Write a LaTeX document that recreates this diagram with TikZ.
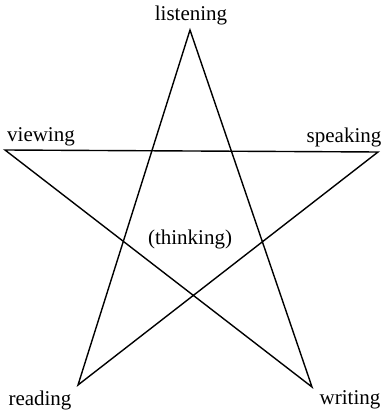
\documentclass[tikz,border=0pt]{standalone}
\usepackage{fontspec}
\setmainfont{Liberation Serif}
\begin{document}
\begin{tikzpicture}[x=1pt, y=-1pt,
        skill/.style={font=\fontsize{21}{23}\selectfont, inner sep=0pt},
        edge/.style={line width=1.4pt, line join=miter}
      ]
      \useasboundingbox (0,0) rectangle (382,411);

      % Star corners
      \coordinate (top) at (190, 30);
      \coordinate (left) at (5, 150);
      \coordinate (right) at (378, 152);
      \coordinate (botleft) at (78, 385);
      \coordinate (botright) at (312, 387);

      % Star lines
      \draw[edge] (botleft) -- (top) -- (botright) -- (left) -- (right) -- cycle;

      % Labels
      \node[skill] (listening) at (191, 15) {listening};
      \node[skill] (viewing) at (41, 137) {viewing};
      \node[skill] (speaking) at (344, 137) {speaking};
      \node[skill] (reading) at (40, 400) {reading};
      \node[skill] (writing) at (350, 400) {writing};
      \node[skill] (thinking) at (190, 239) {(thinking)};

    \end{tikzpicture}
\end{document}
